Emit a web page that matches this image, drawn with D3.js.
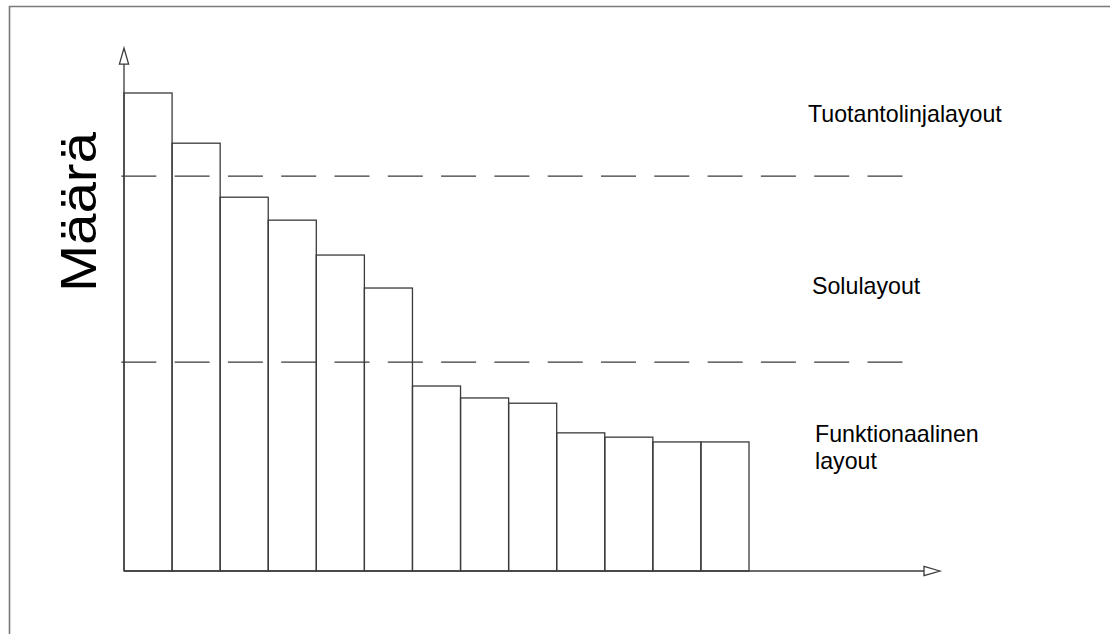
<!DOCTYPE html>
<html>
<head>
<meta charset="utf-8">
<script src="https://cdn.jsdelivr.net/npm/d3@7"></script>
<style>
  html, body { margin: 0; padding: 0; background: #fff; }
  svg { display: block; }
  text { font-family: "Liberation Sans", Arial, sans-serif; fill: #000; }
</style>
</head>
<body>
<svg id="chart" width="1110" height="634"></svg>
<script>
// ---- data ----
const categories = ["1","2","3","4","5","6","7","8","9","10","11","12","13"];
const values = [100, 89.5, 78.2, 73.4, 66.1, 59.2, 38.7, 36.2, 35.1, 28.9, 28.0, 27.0, 27.0];
const thresholds = [82.6, 43.7];
const zoneLabels = [
  { lines: ["Tuotantolinjalayout"], value: 93.4 },
  { lines: ["Solulayout"], value: 58.0 },
  { lines: ["Funktionaalinen", "layout"], value: 27.1 }
];
const yAxisTitle = "Määrä";
const yAxisMax = 109.4;

// ---- layout ----
const svg = d3.select("#chart");
const x0 = 124, x1 = 749, yBase = 571, yTop = 93;
const xAxisEnd = 940, dashEnd = 904, dashStart = 121.3;
const stroke = "#3a3a3a";

const x = d3.scaleBand().domain(categories).range([x0, x1]).padding(0);
const y = d3.scaleLinear().domain([0, 100]).range([yBase, yTop]);

// outer frame (top and left edges)
svg.append("path")
  .attr("d", `M9.5,${634} L9.5,6.5 L1110,6.5`)
  .attr("fill", "none").attr("stroke", "#7a7a7a").attr("stroke-width", 1.6);

// bars
svg.append("g").selectAll("rect").data(values).join("rect")
  .attr("x", (d, i) => x(categories[i]))
  .attr("y", d => y(d))
  .attr("width", x.bandwidth())
  .attr("height", d => yBase - y(d))
  .attr("fill", "none")
  .attr("stroke", stroke)
  .attr("stroke-width", 1.3);

// threshold dashed lines
svg.append("g").selectAll("line").data(thresholds).join("line")
  .attr("x1", dashStart).attr("x2", dashEnd)
  .attr("y1", d => y(d)).attr("y2", d => y(d))
  .attr("stroke", "#3a3a3a").attr("stroke-width", 1.3)
  .attr("stroke-dasharray", "35,18.3");

// axes
const yArrowTip = y(yAxisMax);
svg.append("line")
  .attr("x1", x0).attr("x2", x0).attr("y1", yBase).attr("y2", yArrowTip + 14)
  .attr("stroke", stroke).attr("stroke-width", 1.3);
svg.append("path")
  .attr("d", `M${x0},${yArrowTip} L${x0 - 4.6},${yArrowTip + 16} L${x0 + 4.6},${yArrowTip + 16} Z`)
  .attr("fill", "#fff").attr("stroke", stroke).attr("stroke-width", 1.3).attr("stroke-linejoin", "miter");

svg.append("line")
  .attr("x1", x0).attr("x2", xAxisEnd - 14).attr("y1", yBase).attr("y2", yBase)
  .attr("stroke", stroke).attr("stroke-width", 1.3);
svg.append("path")
  .attr("d", `M${xAxisEnd},${yBase} L${xAxisEnd - 16},${yBase - 4.6} L${xAxisEnd - 16},${yBase + 4.6} Z`)
  .attr("fill", "#fff").attr("stroke", stroke).attr("stroke-width", 1.3);

// y axis title
svg.append("text")
  .attr("transform", `translate(96,212) rotate(-90)`)
  .attr("text-anchor", "middle")
  .attr("font-size", 50)
  .attr("textLength", 160)
  .attr("lengthAdjust", "spacingAndGlyphs")
  .text(yAxisTitle);

// zone labels
const lbl = svg.append("g");
const lblX = [808, 812, 815];
const baselines = [122.3, 294, 441.7];
zoneLabels.forEach((z, i) => {
  const t = lbl.append("text")
    .attr("x", lblX[i]).attr("y", baselines[i])
    .attr("font-size", 23.2);
  z.lines.forEach((ln, j) => {
    t.append("tspan").attr("x", lblX[i]).attr("dy", j === 0 ? 0 : 27).text(ln);
  });
});
</script>
</body>
</html>
